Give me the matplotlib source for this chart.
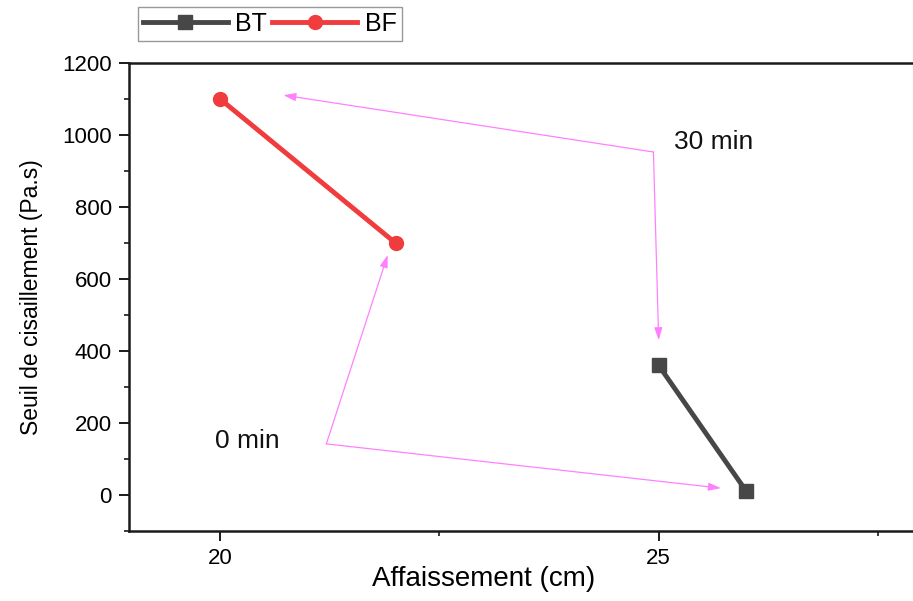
import matplotlib

matplotlib.use('Agg')
import matplotlib.pyplot as plt
from matplotlib.ticker import MultipleLocator

plt.rcParams['font.family'] = ['Liberation Sans', 'DejaVu Sans']

# Slump vs shear threshold for both concretes
bt_slump = [25, 26]
bt_shear = [360, 10]
bf_slump = [20, 22]
bf_shear = [1100, 700]

# Guide arrows (pink): corner point, then the two targets
arrow_30_corner = (24.94, 953)
arrow_30_targets = [(20.72, 1111), (25.0, 430)]
arrow_0_corner = (21.21, 142)
arrow_0_targets = [(21.91, 667), (25.71, 19)]
label_30 = (25.17, 980, '30 min')
label_0 = (19.94, 150, '0 min')

fig = plt.figure(figsize=(9.13, 6.01), dpi=100)
ax = fig.add_axes([0.1413, 0.1165, 0.8587, 0.7785])

ax.plot(bt_slump, bt_shear, color='#474747', linewidth=3.5, marker='s',
        markersize=10, label='BT')
ax.plot(bf_slump, bf_shear, color='#f03c3c', linewidth=3.5, marker='o',
        markersize=10, label='BF')

pink = '#ff80ff'
for corner, targets in [(arrow_30_corner, arrow_30_targets),
                        (arrow_0_corner, arrow_0_targets)]:
    for tx, ty in targets:
        ax.annotate('', xy=(tx, ty), xytext=corner,
                    arrowprops=dict(arrowstyle='-|>,head_length=0.75,head_width=0.24',
                                    color=pink, linewidth=0.9,
                                    shrinkA=0, shrinkB=0))

for x, y, txt in (label_30, label_0):
    ax.text(x, y, txt, fontsize=19, ha='left', va='center', color='#111111')

ax.set_xlim(18.96, 27.9)
ax.set_ylim(-100, 1200)
ax.xaxis.set_major_locator(MultipleLocator(5))
ax.xaxis.set_minor_locator(MultipleLocator(2.5))
ax.yaxis.set_major_locator(MultipleLocator(200))
ax.yaxis.set_minor_locator(MultipleLocator(100))

ax.spines['right'].set_visible(False)
for side in ('left', 'bottom', 'top'):
    ax.spines[side].set_linewidth(1.8)
    ax.spines[side].set_color('#1a1a1a')

ax.tick_params(which='major', direction='out', length=7.5, width=1.4,
               labelsize=16, pad=5, color='#1a1a1a')
ax.tick_params(which='minor', direction='out', length=3.8, width=1.2, color='#1a1a1a')
ax.tick_params(axis='x', which='both', top=False)

ax.set_xlabel('Affaissement (cm)', fontsize=20, labelpad=4)
ax.xaxis.set_label_coords(0.452, -0.075)
ax.set_ylabel('Seuil de cisaillement (Pa.s)', fontsize=16.5, labelpad=14)

leg = fig.legend(loc='upper left', bbox_to_anchor=(0.151, 0.988), ncol=2,
                 fontsize=18, handlelength=3.4, handletextpad=0.3,
                 columnspacing=0.2, borderpad=0.2, borderaxespad=0,
                 fancybox=False, framealpha=1, edgecolor='#999999')
leg.get_frame().set_linewidth(1.0)

plt.savefig('out.png', dpi=100)
plt.close(fig)
